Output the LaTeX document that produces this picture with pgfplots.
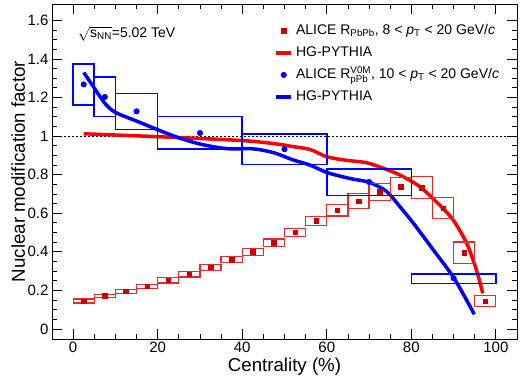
\documentclass[border=0pt]{standalone}
\usepackage{amsmath}
\usepackage{fontspec}
\setmainfont{Liberation Sans}
\usepackage{pgfplots}
\usepackage{pgfplotstable}
\pgfplotsset{compat=1.18}

\definecolor{datared}{RGB}{204,0,0}
\definecolor{boxred}{RGB}{225,45,45}
\definecolor{rootblue}{RGB}{0,0,255}
\definecolor{rootred}{RGB}{255,0,0}

% systematic box drawn around each point: half width \hw and half height \hh in data units
% (axis is 465bp over 110 units in x, 335bp over 1.737 units in y)
\pgfdeclareplotmark{sysbox}{%
  \pgfpathrectanglecorners{\pgfpoint{-\hw*4.22727bp}{-\hh*192.861bp}}{\pgfpoint{\hw*4.22727bp}{\hh*192.861bp}}%
  \pgfusepathqstroke}

% PbPb: centre, value, half width, half height
\pgfplotstableread{
x y hw hh
2.5 0.145 2.5 0.010
7.5 0.171 2.5 0.009
12.5 0.195 2.5 0.010
17.5 0.221 2.5 0.010
22.5 0.252 2.5 0.014
27.5 0.283 2.5 0.014
32.5 0.320 2.5 0.016
37.5 0.360 2.5 0.017
42.5 0.400 2.5 0.019
47.5 0.446 2.5 0.020
52.5 0.501 2.5 0.022
57.5 0.560 2.5 0.024
62.5 0.615 2.5 0.029
67.5 0.662 2.5 0.039
72.5 0.712 2.5 0.044
77.5 0.738 2.5 0.048
82.5 0.733 2.5 0.056
87.5 0.627 2.5 0.054
92.5 0.395 2.5 0.056
97.5 0.145 2.5 0.028
}\pbpb

% pPb: box centre, half width, half height
\pgfplotstableread{
x y hw hh
2.5 1.2675 2.5 0.1065
7.5 1.203 2.5 0.102
15 1.1275 5 0.0925
30 1.0165 10 0.0845
50 0.9325 10 0.0795
70 0.760 10 0.068
90 0.260 10 0.024
}\ppbbox

\begin{document}
\begin{tikzpicture}
\begin{axis}[
    scale only axis,
    width=465bp, height=335bp,
    xmin=-5, xmax=105, ymin=-0.052, ymax=1.685,
    xtick={0,20,...,100}, ytick={0,0.2,...,1.6},
    minor x tick num=3, minor y tick num=3,
    tick align=inside,
    major tick length=10bp, minor tick length=5bp,
    axis line style={line width=0.8bp},
    tick style={black, line width=0.8bp},
    /pgf/number format/assume math mode=true,
    tick label style={font=\fontsize{15bp}{15bp}\selectfont},
    xlabel={Centrality (\%)},
    ylabel={Nuclear modification factor},
    label style={font=\fontsize{18.7bp}{19bp}\selectfont},
    xlabel style={at={(axis description cs:0.5,-0.0985)}, anchor=base},
    ylabel style={at={(axis description cs:-0.0581,0.5)}, anchor=base},
    legend style={draw=none, fill=none, inner sep=0pt, outer sep=0pt,
        at={(rel axis cs:0.4785,0.945)}, anchor=north west,
        font=\fontsize{14bp}{14bp}\selectfont, row sep=5bp, column sep=2bp,
        nodes={inner sep=1bp, text height=11bp, text depth=4bp}},
    legend cell align=left,
    legend image code/.code={\draw[mark repeat=2,mark phase=2,#1] plot coordinates {(0bp,0bp) (7.5bp,0bp) (15bp,0bp)};},
]
\coordinate (bl) at (rel axis cs:0,0);
\coordinate (tr) at (rel axis cs:1,1);

% unity line
\addplot[forget plot, black, line width=0.9bp, dash pattern=on 2bp off 2bp] coordinates {(-5,1) (105,1)};

% PbPb systematic boxes
\addplot[forget plot, only marks, mark=sysbox,
  mark options={draw=boxred, fill=none, line width=1.2bp},
  visualization depends on={\thisrow{hw} \as \hw},
  visualization depends on={\thisrow{hh} \as \hh}] table[x=x, y=y] {\pbpb};

% PbPb points
\addplot[forget plot, only marks, mark=square*, mark size=2.3bp, color=datared]
  table[x=x, y=y] {\pbpb};

% HG-PYTHIA PbPb
\addplot[forget plot, rootred, line width=3.5bp, smooth] coordinates {
(2.5,1.012) (20,0.997) (40,0.977) (48.2,0.959) (52.1,0.945) (56,0.931)
(60,0.893) (64.5,0.875) (69.4,0.862) (73.4,0.833) (77.3,0.798) (82,0.738)
(86.8,0.640) (89.9,0.565) (93.1,0.444) (95.4,0.306) (96.9,0.185)
};

% pPb systematic boxes
\addplot[forget plot, only marks, mark=sysbox,
  mark options={draw=rootblue, fill=none, line width=1.6bp},
  visualization depends on={\thisrow{hw} \as \hw},
  visualization depends on={\thisrow{hh} \as \hh}] table[x=x, y=y] {\ppbbox};

% pPb points
\addplot[forget plot, only marks, mark=*, mark size=2.8bp, color=rootblue] coordinates {
(2.5,1.268) (7.5,1.203) (15,1.128) (30,1.016) (50,0.932) (70,0.762) (90,0.263)
};

% HG-PYTHIA pPb
\addplot[forget plot, rootblue, line width=3.5bp, smooth] coordinates {
(2.5,1.33) (4.9,1.253) (7.5,1.17) (10,1.123) (15,1.078) (19.8,1.035)
(24.5,0.995) (30,0.959) (36.3,0.935) (42.6,0.934) (47.4,0.914) (52.1,0.876)
(56,0.850) (60.1,0.811) (65.5,0.780) (70.1,0.760) (74.2,0.712) (77.3,0.634)
(80.5,0.548) (85.2,0.410) (90.1,0.263) (94.9,0.076)
};

\addlegendimage{only marks, mark=square*, mark size=2.3bp, color=datared}
\addlegendentry{ALICE R$_{\text{PbPb}}$, 8 < \textit{p}$_{\text{T}}$ < 20 GeV/\textit{c}}
\addlegendimage{rootred, line width=3.5bp}
\addlegendentry{HG-PYTHIA}
\addlegendimage{only marks, mark=*, mark size=2.8bp, color=rootblue}
\addlegendentry{ALICE R$^{\text{V0M}}_{\text{pPb}}$, 10 < \textit{p}$_{\text{T}}$ < 20 GeV/\textit{c}}
\addlegendimage{rootblue, line width=3.5bp}
\addlegendentry{HG-PYTHIA}

\node[anchor=base west, inner sep=0pt, font=\fontsize{14bp}{14bp}\selectfont]
  at (rel axis cs:0.056,0.901) {$\sqrt{\text{s}_{\text{NN}}}$=5.02 TeV};
\end{axis}
\pgfresetboundingbox
\path[use as bounding box] ([shift={(-52bp,-38bp)}]bl) rectangle ([shift={(6bp,4bp)}]tr);
\end{tikzpicture}
\end{document}
